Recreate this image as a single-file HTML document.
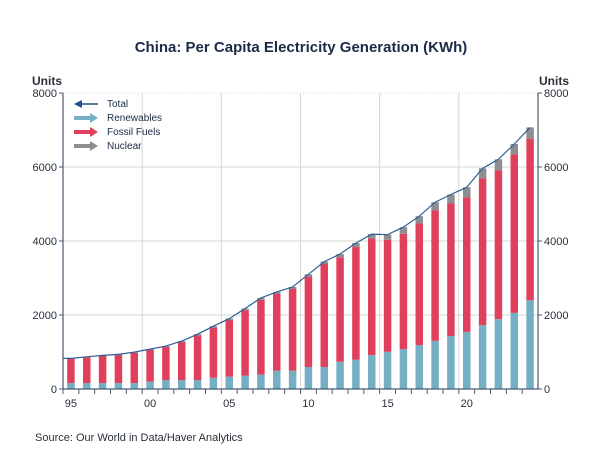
<!DOCTYPE html>
<html><head><meta charset="utf-8"><style>
body{margin:0;background:#fff;}
svg{display:block;font-family:"Liberation Sans",sans-serif;}
</style></head><body>
<svg id="c" width="602" height="451">
<text x="301" y="52" text-anchor="middle" font-size="15" font-weight="bold" fill="#1b2a48">China: Per Capita Electricity Generation (KWh)</text>
<text x="32" y="85" font-size="12" font-weight="bold" fill="#2a2f3a">Units</text>
<text x="539" y="85" font-size="12" font-weight="bold" fill="#2a2f3a">Units</text>
<text x="35" y="441" font-size="11" fill="#2a2f3a">Source:  Our World in Data/Haver Analytics</text>
<g id="grid"></g><g id="bars"></g><g id="line"></g><g id="axes"></g>
<g font-size="10" fill="#1b2a48">
<g><line x1="80" y1="104" x2="98" y2="104" stroke="#1f4e85" stroke-width="1.5"/><polygon points="74,104 82,100 82,108" fill="#1f4e85"/><text x="107" y="107">Total</text></g>
<g><rect x="74" y="116" width="16" height="4" fill="#74afc4"/><polygon points="90,113 98,118 90,123" fill="#74afc4"/><text x="107" y="121">Renewables</text></g>
<g><rect x="74" y="130" width="16" height="4" fill="#e0405c"/><polygon points="90,127 98,132 90,137" fill="#e0405c"/><text x="107" y="135">Fossil Fuels</text></g>
<g><rect x="74" y="144" width="16" height="4" fill="#8e8e92"/><polygon points="90,141 98,146 90,151" fill="#8e8e92"/><text x="107" y="149">Nuclear</text></g>
</g>
</svg>
<script>
const years=[1995,1996,1997,1998,1999,2000,2001,2002,2003,2004,2005,2006,2007,2008,2009,2010,2011,2012,2013,2014,2015,2016,2017,2018,2019,2020,2021,2022,2023,2024];
const renewables=[160,160,160,160,160,197,243,243,243,305,332,359,386,494,494,595,593,736,790,916,1006,1078,1186,1302,1429,1545,1725,1887,2057,2399];
const fossil=[655,697,732,757,817,858,891,1026,1209,1353,1532,1771,2025,2074,2209,2442,2785,2822,3046,3154,3028,3118,3288,3531,3584,3630,3970,4024,4285,4366];
const nuclear=[12,13,15,17,20,23,25,25,30,40,40,45,50,55,55,63,64,90,108,117,135,179,197,216,243,278,270,296,280,305];
const total=[827,870,907,934,997,1078,1159,1294,1482,1698,1904,2175,2461,2623,2758,3100,3442,3648,3944,4187,4169,4375,4671,5049,5256,5453,5965,6207,6622,7070];
const yTicks=[0,2000,4000,6000,8000];
const xTickLabels=["95","00","05","10","15","20"];
const xTickYears=[1995,2000,2005,2010,2015,2020];
const NS='http://www.w3.org/2000/svg';
const X0=63,X1=538,Y0=389,Y1=93,YMAX=8000;
const step=(X1-X0)/years.length;
const xs=i=>X0+step*(i+0.5);
const yv=v=>Y0-(v/YMAX)*(Y0-Y1);
function mk(tag,attrs,parent){const e=document.createElementNS(NS,tag);for(const k in attrs)e.setAttribute(k,attrs[k]);document.getElementById(parent).appendChild(e);return e;}
// grid
yTicks.forEach(t=>{if(t===0)return;
 const g=mk('line',{x1:X0,x2:X1,y1:yv(t),y2:yv(t),stroke:'#d6d6d6','stroke-width':1},'grid');
 if(t===YMAX)g.setAttribute('stroke-dasharray','1,2');
 
 });
xTickYears.forEach(yr=>{const i=years.indexOf(yr);if(i<=0)return;const x=X0+step*i;
 const g=mk('line',{x1:x,x2:x,y1:Y1,y2:Y0,stroke:'#d6d6d6','stroke-width':1},'grid');
 
 });
// bars
const bw=7.5;
years.forEach((yr,i)=>{const x=xs(i)-bw/2;
 const r=mk('rect',{x:x,width:bw,y:yv(renewables[i]),height:Y0-yv(renewables[i]),fill:'#74afc4'},'bars');
 
 
 const f=mk('rect',{x:x,width:bw,y:yv(renewables[i]+fossil[i]),height:yv(renewables[i])-yv(renewables[i]+fossil[i]),fill:'#e0405c'},'bars');
 
 
 const s=renewables[i]+fossil[i];
 const n=mk('rect',{x:x,width:bw,y:yv(s+nuclear[i]),height:yv(s)-yv(s+nuclear[i]),fill:'#8e8e92'},'bars');
 
 });
// total line
let d='M'+X0+','+yv(total[0]);
total.forEach((v,i)=>{d+=' L'+xs(i).toFixed(1)+','+yv(v).toFixed(1);});
const ln=mk('path',{d:d,fill:'none',stroke:'#2d5f95','stroke-width':1.2},'line');


// axes
const la=mk('line',{x1:X0,x2:X0,y1:Y1,y2:Y0,stroke:'#4a5a70','stroke-width':1.2},'axes');


const ra=mk('line',{x1:X1,x2:X1,y1:Y1,y2:Y0,stroke:'#4a5a70','stroke-width':1.2},'axes');


const xa=mk('line',{x1:X0,x2:X1,y1:Y0,y2:Y0,stroke:'#4a5a70','stroke-width':1.2},'axes');


yTicks.forEach(t=>{const y=yv(t);
 mk('line',{x1:X0-4,x2:X0,y1:y,y2:y,stroke:'#4a5a70'},'axes');
 mk('line',{x1:X1,x2:X1+4,y1:y,y2:y,stroke:'#4a5a70'},'axes');
 const a=mk('text',{x:X0-6,y:y+4,'text-anchor':'end','font-size':11,fill:'#2a2f3a'},'axes');a.textContent=t;
 
 
 const b=mk('text',{x:X1+6,y:y+4,'font-size':11,fill:'#2a2f3a'},'axes');b.textContent=t;
 
 });
years.forEach((yr,i)=>{const x=X0+step*i;mk('line',{x1:x,x2:x,y1:Y0,y2:Y0+5,stroke:'#4a5a70'},'axes');});
xTickYears.forEach((yr,k)=>{const i=years.indexOf(yr);
 const t=mk('text',{x:xs(i),y:Y0+18,'text-anchor':'middle','font-size':11,fill:'#2a2f3a'},'axes');t.textContent=xTickLabels[k];
 
 });
</script>
</body></html>
